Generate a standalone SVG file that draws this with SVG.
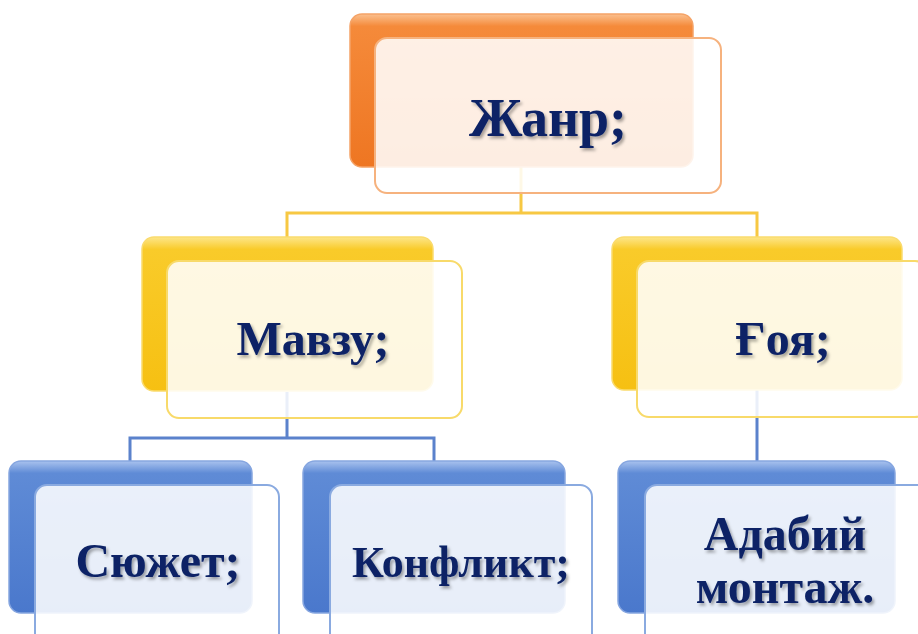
<svg xmlns="http://www.w3.org/2000/svg" width="918" height="634" viewBox="0 0 918 634">
<defs>
<linearGradient id="gOr" x1="0" y1="0" x2="0" y2="1">
<stop offset="0" stop-color="#FBC08F"/><stop offset="0.08" stop-color="#F58A3A"/><stop offset="1" stop-color="#EE7622"/>
</linearGradient>
<linearGradient id="gYe" x1="0" y1="0" x2="0" y2="1">
<stop offset="0" stop-color="#FDE68A"/><stop offset="0.08" stop-color="#F9CB2A"/><stop offset="1" stop-color="#F6C012"/>
</linearGradient>
<linearGradient id="gBl" x1="0" y1="0" x2="0" y2="1">
<stop offset="0" stop-color="#A9C2EE"/><stop offset="0.08" stop-color="#5F8BD6"/><stop offset="1" stop-color="#4A78CC"/>
</linearGradient>
<filter id="ts" x="-10%" y="-20%" width="130%" height="150%">
<feDropShadow dx="2" dy="2.5" stdDeviation="1.5" flood-color="#000" flood-opacity="0.35"/>
</filter>
</defs>
<style>
.front{fill:#FFFFFF;fill-opacity:0.87;stroke-width:2}
.fo{stroke:#F6B27E}
.fy{stroke:#F8DA6A}
.fb{stroke:#8AAAE0}
.bo{stroke:#F5A367;stroke-width:1.5}
.by{stroke:#FADB6E;stroke-width:1.5}
.bb{stroke:#86A6E0;stroke-width:1.5}
.lbl{font-family:"Liberation Serif","Times New Roman",serif;font-weight:bold;fill:#0B2466;text-anchor:middle;filter:url(#ts)}
.cy{fill:none;stroke:#F7C843;stroke-width:3}
.cb{fill:none;stroke:#5B82CC;stroke-width:3}
</style>
<rect width="918" height="634" fill="#FFFFFF"/>
<g id="connectors">
<path class="cy" d="M521,167 V213 M287,237 V213 H757 V237"/>
<path class="cb" d="M287,392 V438 M130,462 V438 H434 V462"/>
<path class="cb" d="M757,390 V462"/>
</g>
<g id="node-zhanr">
<rect x="350" y="14" width="343" height="153" rx="12" fill="url(#gOr)" class="bo"/>
<rect x="375" y="38" width="346" height="155" rx="12" class="front fo"/>
<text x="548" y="136" class="lbl" font-size="54">Жанр;</text>
</g>
<g id="node-mavzu">
<rect x="142" y="237" width="291" height="154" rx="12" fill="url(#gYe)" class="by"/>
<rect x="167" y="261" width="295" height="157" rx="12" class="front fy"/>
<text x="313" y="355" class="lbl" font-size="48">Мавзу;</text>
</g>
<g id="node-goya">
<rect x="612" y="237" width="290" height="153" rx="12" fill="url(#gYe)" class="by"/>
<rect x="637" y="261" width="290" height="156" rx="12" class="front fy"/>
<text x="783" y="355" class="lbl" font-size="48">Ғоя;</text>
</g>
<g id="node-syuzhet">
<rect x="9" y="461" width="243" height="152" rx="12" fill="url(#gBl)" class="bb"/>
<rect x="35" y="485" width="244" height="160" rx="12" class="front fb"/>
<text x="158" y="577" class="lbl" font-size="48">Сюжет;</text>
</g>
<g id="node-konflikt">
<rect x="303" y="461" width="262" height="152" rx="12" fill="url(#gBl)" class="bb"/>
<rect x="330" y="485" width="262" height="160" rx="12" class="front fb"/>
<text x="461" y="577" class="lbl" font-size="44">Конфликт;</text>
</g>
<g id="node-adabiy">
<rect x="618" y="461" width="277" height="152" rx="12" fill="url(#gBl)" class="bb"/>
<rect x="645" y="485" width="285" height="160" rx="12" class="front fb"/>
<text x="785" y="550" class="lbl" font-size="48">Адабий</text>
<text x="785" y="603" class="lbl" font-size="48">монтаж.</text>
</g>
</svg>
